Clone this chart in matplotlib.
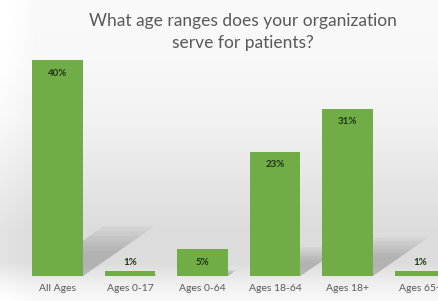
import numpy as np
import matplotlib
matplotlib.use("Agg")
import matplotlib.pyplot as plt
from matplotlib.patches import Polygon

categories = ["All Ages", "Ages 0-17", "Ages 0-64", "Ages 18-64", "Ages 18+", "Ages 65+"]
values = [40, 1, 5, 23, 31, 1]
labels = ["40%", "1%", "5%", "23%", "31%", "1%"]
title = "What age ranges does your organization\nserve for patients?"

bar_color = "#70ad47"
text_gray = "#595959"
label_dark = "#1f3312"

plt.rcParams["font.family"] = ["Lato", "DejaVu Sans"]

fig = plt.figure(figsize=(4.38, 3.01), dpi=100)

# background gradient (light grey band behind the lower part of the bars)
bg = fig.add_axes([0, 0, 1, 1], zorder=0)
rows = np.array([0, 60, 120, 180, 230, 262, 282, 301])
grey = np.array([250, 248, 242, 230, 220, 220, 238, 250]) / 255.0
yy = np.arange(301)
col = np.interp(yy, rows, grey)
xx = np.linspace(0, 1, 438)
edge = np.clip(1 - xx / 0.08, 0, 1) * 0.03
img = np.clip(col[:, None] + edge[None, :], 0, 1)
bg.imshow(np.dstack([img, img, img]), aspect="auto", extent=[0, 1, 0, 1], origin="upper")
bg.set_xlim(0, 1)
bg.set_ylim(0, 1)
bg.axis("off")

ax = fig.add_axes([0, 25 / 301, 1, 226 / 301], zorder=1)
ax.patch.set_alpha(0)
x = np.arange(len(categories))
w = 0.7

# soft perspective shadows
for xi, v in zip(x, values):
    d = 0.0246 * v
    h = 0.23 * v
    for k in range(6):
        s = 1 - k * 0.1
        poly = Polygon([(xi - w / 2, 0), (xi + w / 2, 0),
                        (xi + w / 2 + d * s, h * s), (xi - w / 2 + d * s, h * s)],
                       closed=True, facecolor="#8c8c8c", edgecolor="none", alpha=0.11)
        ax.add_patch(poly)

ax.bar(x, values, width=w, color=bar_color, zorder=3)

for xi, v, lab in zip(x, values, labels):
    if v >= 5:
        ax.annotate(lab, (xi, v), xytext=(0, -9.5), textcoords="offset points",
                    ha="center", va="center", fontsize=7, fontweight="bold",
                    color=label_dark, zorder=4)
    else:
        ax.annotate(lab, (xi, v), xytext=(0, 6), textcoords="offset points",
                    ha="center", va="center", fontsize=7, fontweight="bold",
                    color=label_dark, zorder=4)

ax.set_xlim(-0.793, 5.248)
ax.set_ylim(0, 226 / 5.4)
ax.set_xticks(x)
ax.set_xticklabels(categories, fontsize=7.5, color=text_gray)
ax.tick_params(axis="x", length=0, pad=5.5)
ax.set_yticks([])
for sp in ax.spines.values():
    sp.set_visible(False)

fig.text(243 / 438, 1 - 32 / 301, title, ha="center", va="center",
         fontsize=12.5, color=text_gray, linespacing=1.45)

fig.savefig("out.png", dpi=100)
